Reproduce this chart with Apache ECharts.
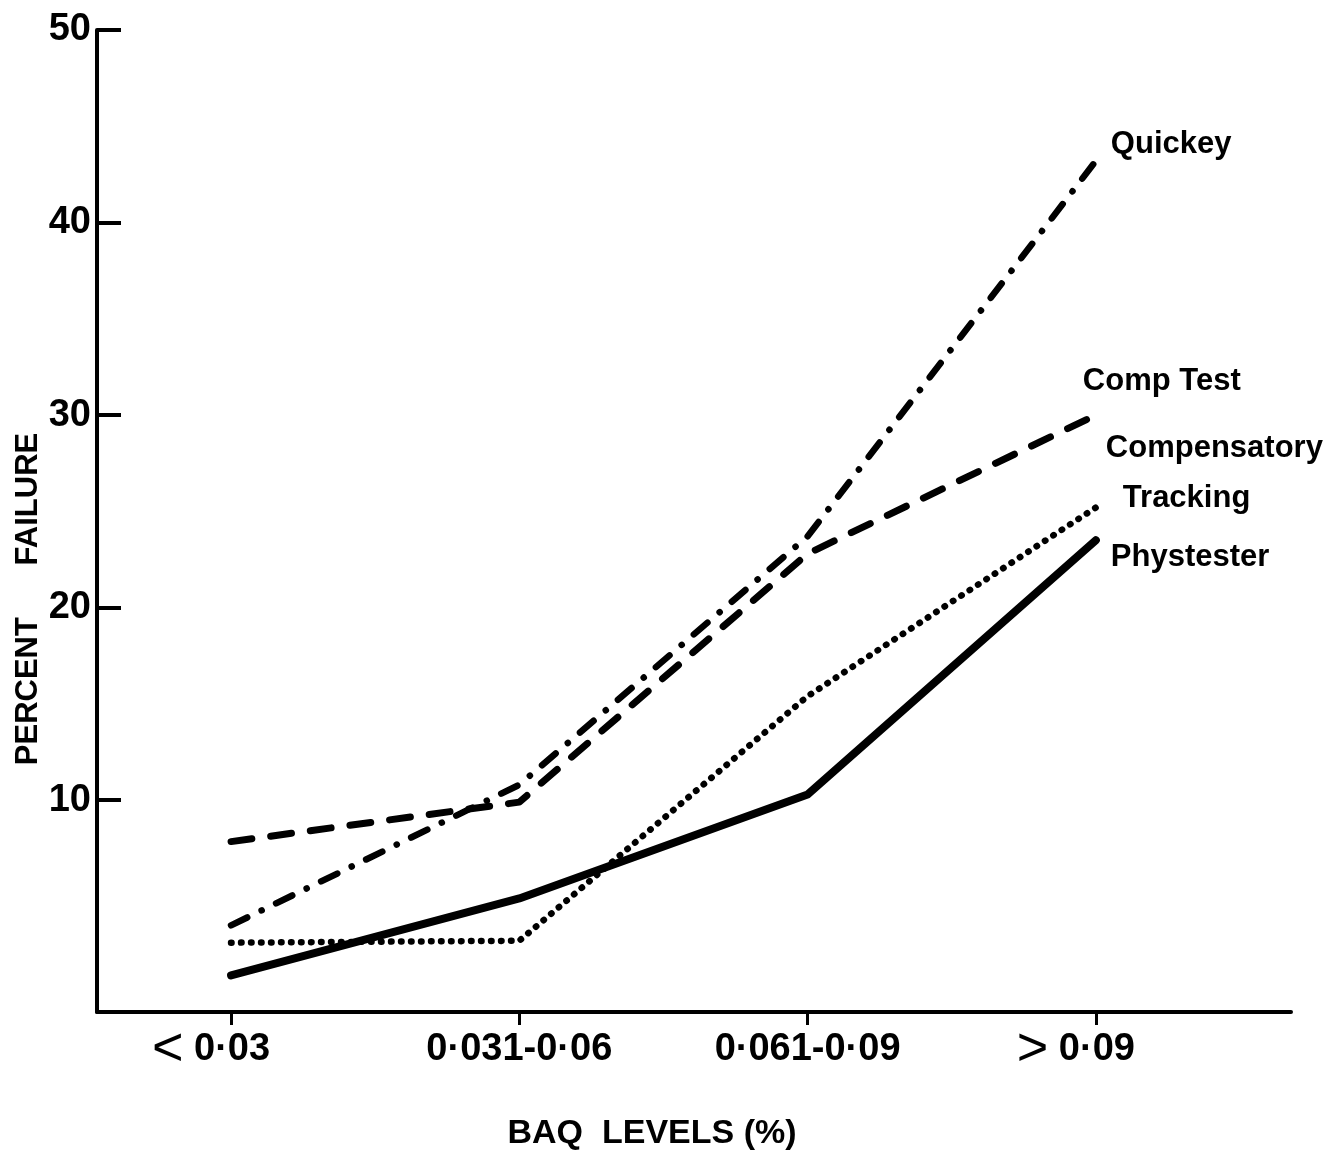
<!DOCTYPE html>
<html>
<head>
<meta charset="utf-8">
<script src="https://cdn.jsdelivr.net/npm/echarts@6/dist/echarts.min.js"></script>
<style>
  html, body { margin: 0; padding: 0; background: #fff; }
  #chart { width: 1344px; height: 1152px; }
</style>
</head>
<body>
<div id="chart"></div>
<script>
// ---- Data ----
const categories = ['< 0·03', '0·031-0·06', '0·061-0·09', '> 0·09'];
const yTicks = [10, 20, 30, 40, 50];
const quickey = [3.5, 10.8, 23.7, 43.2];
const compTest = [7.85, 9.9, 22.8, 30.0];
const compTracking = [2.6, 2.7, 15.4, 25.2];
const phystester = [0.9, 4.9, 10.3, 23.5];

const FONT = '"Liberation Sans", Arial, "DejaVu Sans", sans-serif';
const toPairs = arr => arr.map((v, i) => [i, v]);
const catIdx = categories.map((c, i) => i);

const chart = echarts.init(document.getElementById('chart'), null, { renderer: 'canvas' });

function endLabel(text, offset, extra) {
  return Object.assign({
    show: true,
    formatter: text,
    color: '#000',
    fontFamily: FONT,
    fontWeight: 'bold',
    fontSize: 31,
    distance: 0,
    offset: offset,
    align: 'left',
    verticalAlign: 'middle'
  }, extra || {});
}

function xLabel(val) {
  const i = Math.round(val);
  const t = categories[i];
  const m = t.match(/^([<>])\s*(.*)$/);
  if (m) {
    return '{g|' + m[1] + '}{t| ' + m[2] + '}{s|}';
  }
  return '{t|' + t + '}';
}

const option = {
  backgroundColor: '#fff',
  animation: false,
  grid: { left: 97, right: 53, top: 30, bottom: 140, containLabel: false, outerBoundsMode: 'none' },
  xAxis: {
    type: 'value',
    min: -0.465,
    max: 3.677,
    splitLine: { show: false },
    axisLine: { show: true, onZero: false, lineStyle: { color: '#000', width: 4 } },
    axisTick: { show: true, customValues: catIdx, length: 13, lineStyle: { color: '#000', width: 3 } },
    axisLabel: {
      customValues: catIdx,
      margin: 14,
      formatter: xLabel,
      rich: {
        t: { fontSize: 38, fontWeight: 'bold', fontFamily: FONT, color: '#000', lineHeight: 48, verticalAlign: 'middle' },
        g: { fontSize: 54, fontWeight: 'normal', fontFamily: FONT, color: '#000', lineHeight: 48, verticalAlign: 'middle' },
        s: { width: 40, lineHeight: 48 }
      }
    }
  },
  yAxis: {
    type: 'value',
    min: -1,
    max: 50,
    splitLine: { show: false },
    axisLine: { show: true, onZero: false, lineStyle: { color: '#000', width: 4 } },
    axisTick: { show: true, inside: true, customValues: yTicks, length: 24, lineStyle: { color: '#000', width: 4 } },
    axisLabel: {
      customValues: yTicks,
      margin: 6,
      color: '#000',
      fontSize: 38,
      fontWeight: 'bold',
      fontFamily: FONT
    }
  },
  series: [
    {
      name: 'Quickey',
      type: 'line',
      data: toPairs(quickey),
      symbol: 'none',
      lineStyle: { color: '#000', width: 6.5, type: [18, 16, 0.1, 16], cap: 'round', join: 'round' },
      endLabel: endLabel('Quickey', [15, -16])
    },
    {
      name: 'Comp Test',
      type: 'line',
      data: toPairs(compTest),
      symbol: 'none',
      lineStyle: { color: '#000', width: 7, type: [21, 19], cap: 'round', join: 'round' },
      endLabel: endLabel('Comp Test', [-13, -34])
    },
    {
      name: 'Compensatory Tracking',
      type: 'line',
      data: toPairs(compTracking),
      symbol: 'none',
      lineStyle: { color: '#000', width: 6.5, type: [0.5, 9.5], cap: 'round', join: 'round' },
      endLabel: endLabel('{a|Compensatory}\n{b|Tracking}', [10, -34], {
        rich: {
          a: { fontSize: 31, fontWeight: 'bold', fontFamily: FONT, color: '#000', lineHeight: 50 },
          b: { fontSize: 31, fontWeight: 'bold', fontFamily: FONT, color: '#000', lineHeight: 50, padding: [0, 0, 0, 17] }
        }
      })
    },
    {
      name: 'Phystester',
      type: 'line',
      data: toPairs(phystester),
      symbol: 'none',
      lineStyle: { color: '#000', width: 8, type: 'solid', cap: 'round', join: 'round' },
      endLabel: endLabel('Phystester', [15, 17])
    }
  ],
  graphic: [
    {
      type: 'text',
      x: 28, y: 599,
      rotation: Math.PI / 2,
      style: {
        text: 'PERCENT      FAILURE',
        fill: '#000',
        fontSize: 31,
        fontWeight: 'bold',
        fontFamily: FONT,
        align: 'center',
        verticalAlign: 'middle'
      }
    },
    {
      type: 'text',
      x: 652, y: 1134,
      style: {
        text: 'BAQ  LEVELS (%)',
        fill: '#000',
        fontSize: 34,
        fontWeight: 'bold',
        fontFamily: FONT,
        align: 'center',
        verticalAlign: 'middle'
      }
    }
  ]
};

chart.setOption(option);
</script>
</body>
</html>
